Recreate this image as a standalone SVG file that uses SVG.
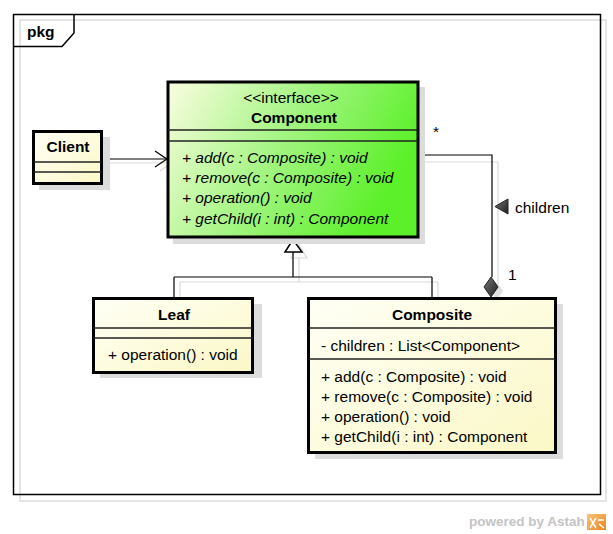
<svg xmlns="http://www.w3.org/2000/svg" width="613" height="534" viewBox="0 0 613 534">
<defs>
<linearGradient id="gY" x1="0" y1="0" x2="1" y2="1"><stop offset="0" stop-color="#fffff6"/><stop offset="1" stop-color="#fbf8c6"/></linearGradient>
<linearGradient id="gG" x1="0" y1="0" x2="1" y2="0.35"><stop offset="0" stop-color="#fafde0"/><stop offset="0.5" stop-color="#a6f585"/><stop offset="1" stop-color="#5cf02a"/></linearGradient>
<linearGradient id="gD" x1="0" y1="0" x2="1" y2="1"><stop offset="0" stop-color="#777"/><stop offset="1" stop-color="#1e1e1e"/></linearGradient>
<linearGradient id="gO" x1="0" y1="0" x2="1" y2="1"><stop offset="0" stop-color="#f8c27a"/><stop offset="1" stop-color="#e8891e"/></linearGradient>
</defs>
<style>
text{font-family:"Liberation Sans",Arial,sans-serif;font-size:15.5px;fill:#000}
.b{font-weight:bold}
.i{font-style:italic}
.c{text-anchor:middle}
.box{stroke:#000;stroke-width:3}
.sep{stroke:#222;stroke-width:1.5;fill:none}
.sh{fill:#dcdcdc}
.ln{stroke:#000;stroke-width:1.2;fill:none}
.lns{stroke:#dadada;stroke-width:1.2;fill:none}
</style>
<g id="frame">
<rect x="20" y="20" width="586" height="481" fill="none" stroke="#dcdcdc" stroke-width="1.5"/>
<rect x="13.5" y="14.5" width="587" height="480" fill="none" stroke="#000" stroke-width="1.5"/>
<path d="M13.5 46.5 H62 L74 33 V14.5" fill="none" stroke="#000" stroke-width="1.5"/>
<text class="b" x="27" y="37">pkg</text>
</g>
<g id="connectors">
<g id="shadows">
<path class="lns" d="M103 163 H172 M160 155 L172 163 L160 171"/>
<path class="lns" d="M299 245 L291 258 H307 Z M299 258 V282 M180 282 H438 M180 282 V297 M438 282 V297"/>
<path class="lns" d="M423 162 H498 V284"/>
<path d="M497 282 L503 291 L497 300 L491 291 Z" fill="#e0e0e0"/>
</g>
<path class="ln" d="M103 159 H167"/>
<path class="ln" d="M155 151 L167 159 L155 167"/>
<path class="ln" d="M293 252 V277 M174 277 H432 M174 277 V297 M432 277 V297"/>
<path d="M293 239.5 L285 252 H302 Z" fill="#fff" stroke="#000" stroke-width="1.5"/>
<path class="ln" d="M419 155 H492 V277"/>
<path d="M491 277 L498 287 L491 297 L484 287 Z" fill="url(#gD)" stroke="#222" stroke-width="1"/>
<path d="M495 206.5 L508 199 V214 Z" fill="url(#gD)" stroke="#222" stroke-width="1"/>
<text x="515" y="213">children</text>
<text x="433" y="137">*</text>
<text x="508" y="280">1</text>
</g>
<g id="Component">
<rect class="sh" x="173" y="87" width="252" height="157"/>
<rect class="box" x="168" y="82" width="250" height="155" fill="url(#gG)"/>
<line class="sep" x1="168" y1="130" x2="418" y2="130"/>
<line class="sep" x1="168" y1="141" x2="418" y2="141"/>
<text class="c" x="291" y="103">&lt;&lt;interface&gt;&gt;</text>
<text class="b c" x="294" y="123">Component</text>
<text class="i" x="182" y="163">+ add(c : Composite) : void</text>
<text class="i" x="182" y="183">+ remove(c : Composite) : void</text>
<text class="i" x="182" y="203">+ operation() : void</text>
<text class="i" x="182" y="224">+ getChild(i : int) : Component</text>
</g>
<g id="Client">
<rect class="sh" x="39" y="137" width="71" height="53"/>
<rect class="box" x="33.5" y="131.5" width="68" height="52" fill="url(#gY)"/>
<line class="sep" x1="33.5" y1="162" x2="101.5" y2="162"/>
<line class="sep" x1="33.5" y1="172" x2="101.5" y2="172"/>
<text class="b c" x="68" y="152">Client</text>
</g>
<g id="Leaf">
<rect class="sh" x="100" y="304" width="162" height="74"/>
<rect class="box" x="93.5" y="298.5" width="159" height="74" fill="url(#gY)"/>
<line class="sep" x1="93.5" y1="328" x2="252.5" y2="328"/>
<line class="sep" x1="93.5" y1="338" x2="252.5" y2="338"/>
<text class="b c" x="174" y="320">Leaf</text>
<text x="108" y="360">+ operation() : void</text>
</g>
<g id="Composite">
<rect class="sh" x="315" y="304" width="248" height="155"/>
<rect class="box" x="308.5" y="298.5" width="247" height="154" fill="url(#gY)"/>
<line class="sep" x1="308.5" y1="328" x2="555.5" y2="328"/>
<line class="sep" x1="308.5" y1="359" x2="555.5" y2="359"/>
<text class="b c" x="432" y="320">Composite</text>
<text x="321" y="351">- children : List&lt;Component&gt;</text>
<text x="321" y="382">+ add(c : Composite) : void</text>
<text x="321" y="402">+ remove(c : Composite) : void</text>
<text x="321" y="422">+ operation() : void</text>
<text x="321" y="442">+ getChild(i : int) : Component</text>
</g>
<g id="watermark">
<text class="b" x="469" y="526" style="fill:#c4c4c4;font-size:13.5px">powered by Astah</text>
<rect x="587" y="514" width="19" height="16" fill="url(#gO)"/>
<path d="M590 518 L596 528 M596 518 L590 528 M598 520 H604 M599 524 L604 528" stroke="#fff" stroke-width="1.5" fill="none"/>
</g>
</svg>
